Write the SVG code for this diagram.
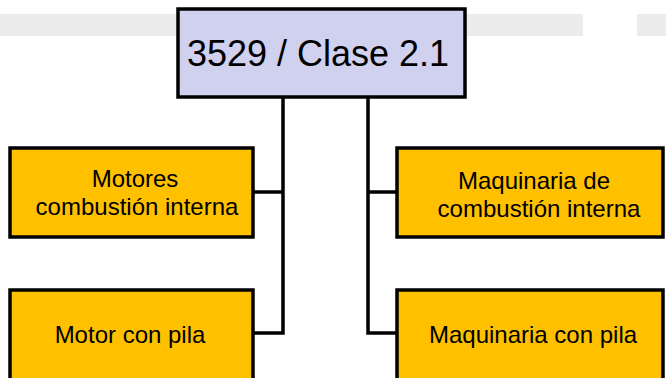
<svg xmlns="http://www.w3.org/2000/svg" width="666" height="378" viewBox="0 0 666 378">
<style>
.band{fill:#ececec}
.box{stroke:#000;stroke-width:3.5}
.top{fill:#d0d0ef}
.leaf{fill:#ffc000}
.conn{fill:none;stroke:#000;stroke-width:3.5;stroke-linejoin:miter}
text{font-family:"Liberation Sans",Arial,sans-serif;fill:#000;text-anchor:middle}
.t1{font-size:36px}
.t2{font-size:24px}
</style>
<rect width="666" height="378" fill="#fff"/>
<g id="watermark">
<rect class="band" x="0" y="14" width="176" height="22"/>
<rect class="band" x="466" y="14" width="117" height="22"/>
<rect class="band" x="637" y="14" width="29" height="22"/>
</g>
<g id="connectors">
<path class="conn" d="M283 97 V333 H253 M283 192 H253"/>
<path class="conn" d="M368 97 V333 H397 M368 192 H397"/>
</g>
<g id="root">
<rect class="box top" x="178" y="9" width="287" height="88"/>
<text class="t1" x="318" y="66">3529 / Clase 2.1</text>
</g>
<g id="motores-combustion">
<rect class="box leaf" x="10" y="148" width="243" height="89"/>
<text class="t2" x="135" y="187">Motores</text>
<text class="t2" x="137" y="215">combustión interna</text>
</g>
<g id="maquinaria-combustion">
<rect class="box leaf" x="397" y="148" width="266" height="89"/>
<text class="t2" x="534" y="189">Maquinaria de</text>
<text class="t2" x="539" y="217">combustión interna</text>
</g>
<g id="motor-pila">
<rect class="box leaf" x="10" y="290" width="243" height="100"/>
<text class="t2" x="130" y="343">Motor con pila</text>
</g>
<g id="maquinaria-pila">
<rect class="box leaf" x="397" y="290" width="266" height="100"/>
<text class="t2" x="533" y="343">Maquinaria con pila</text>
</g>
</svg>
